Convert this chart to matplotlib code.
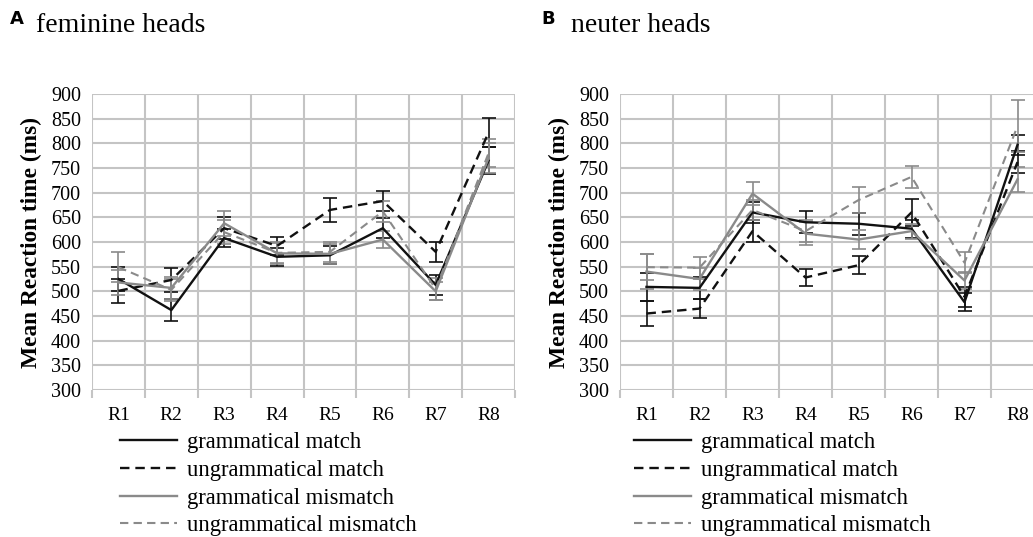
import matplotlib
matplotlib.use("Agg")
import matplotlib.pyplot as plt
from matplotlib.lines import Line2D

regions = ['R1', 'R2', 'R3', 'R4', 'R5', 'R6', 'R7', 'R8']
series_labels = ['grammatical match', 'ungrammatical match',
                 'grammatical mismatch', 'ungrammatical mismatch']
y_ticks = [300, 350, 400, 450, 500, 550, 600, 650, 700, 750, 800, 850, 900]

# Panel A: feminine heads
fem_gram_match = [525, 462, 608, 570, 573, 628, 513, 765]
fem_gram_match_err = [25, 22, 18, 18, 18, 20, 20, 28]
fem_ungram_match = [501, 523, 628, 592, 665, 683, 580, 822]
fem_ungram_match_err = [25, 25, 22, 18, 25, 20, 20, 30]
fem_gram_mismatch = [518, 507, 638, 577, 576, 605, 500, 770]
fem_gram_mismatch_err = [25, 22, 25, 22, 20, 18, 18, 30]
fem_ungram_mismatch = [549, 503, 620, 578, 580, 662, 505, 780]
fem_ungram_mismatch_err = [30, 22, 25, 20, 20, 22, 22, 28]

# Panel B: neuter heads
neu_gram_match = [509, 507, 660, 640, 637, 627, 478, 797]
neu_gram_match_err = [28, 22, 22, 22, 22, 18, 18, 20]
neu_ungram_match = [455, 465, 622, 528, 553, 660, 489, 762]
neu_ungram_match_err = [25, 20, 22, 18, 18, 28, 20, 22]
neu_gram_mismatch = [540, 525, 698, 617, 605, 622, 522, 727]
neu_gram_mismatch_err = [35, 22, 24, 23, 20, 15, 18, 25]
neu_ungram_mismatch = [549, 548, 665, 622, 685, 732, 558, 835]
neu_ungram_mismatch_err = [27, 22, 20, 22, 27, 23, 21, 52]

BLACK = '#111111'
GRAY = '#8a8a8a'
GRID = '#c4c4c4'
styles = [
    dict(color=BLACK, ls='-', lw=1.7),
    dict(color=BLACK, ls=(0, (4, 2.5)), lw=1.7),
    dict(color=GRAY, ls='-', lw=1.7),
    dict(color=GRAY, ls=(0, (4, 2.5)), lw=1.5),
]

plt.rcParams['font.family'] = ['Liberation Serif', 'DejaVu Serif']

W, H = 1033, 537
fig = plt.figure(figsize=(W / 100, H / 100), dpi=100)


def px_axes(l, t, r, b):
    return fig.add_axes([l / W, 1 - b / H, (r - l) / W, (b - t) / H])


def draw_panel(ax, data, errs):
    x = list(range(1, len(regions) + 1))
    ax.set_xlim(0.5, len(regions) + 0.5)
    ax.set_ylim(300, 900)
    ax.set_yticks(y_ticks)
    ax.set_xticks(x)
    ax.set_xticklabels(regions, fontsize=14)
    ax.tick_params(axis='y', labelsize=14.5, length=0, pad=8)
    ax.tick_params(axis='x', length=0, pad=12)
    ax.set_xticks([i + 0.5 for i in range(0, len(regions) + 1)], minor=True)
    ax.tick_params(axis='x', which='minor', length=6, color=GRID, width=1.5)
    for s in ax.spines.values():
        s.set_visible(False)
    for yv in y_ticks:
        ax.axhline(yv, color=GRID, lw=1.5, zorder=0)
    for xv in [i + 0.5 for i in range(0, len(regions) + 1)]:
        ax.axvline(xv, color=GRID, lw=1.5, zorder=0)
    for vals, err, st in zip(data, errs, styles):
        ax.errorbar(x, vals, yerr=err, color=st['color'], ls=st['ls'], lw=st['lw'],
                    elinewidth=1.2, capsize=5, capthick=1.2, zorder=3)
    ax.set_ylabel('Mean Reaction time (ms)', fontsize=16.8, fontweight='bold', labelpad=6)


axA = px_axes(92, 94, 515, 390)
draw_panel(axA,
           [fem_gram_match, fem_ungram_match, fem_gram_mismatch, fem_ungram_mismatch],
           [fem_gram_match_err, fem_ungram_match_err, fem_gram_mismatch_err, fem_ungram_mismatch_err])

axB = px_axes(620, 94, 1044, 390)
draw_panel(axB,
           [neu_gram_match, neu_ungram_match, neu_gram_mismatch, neu_ungram_mismatch],
           [neu_gram_match_err, neu_ungram_match_err, neu_gram_mismatch_err, neu_ungram_mismatch_err])

handles = [Line2D([], [], color=st['color'], ls=st['ls'], lw=st['lw']) for st in styles]
for lx in (120, 634):
    fig.legend(handles, series_labels, loc='upper left',
               bbox_to_anchor=(lx / W, 1 - 432 / H), frameon=False,
               fontsize=16.3, handlelength=2.5, handletextpad=0.45,
               labelspacing=0.3, borderpad=0, borderaxespad=0)

fig.text(10 / W, 1 - 19 / H, 'A', family='DejaVu Sans', fontweight='bold',
         fontsize=13, va='center', ha='left')
fig.text(36 / W, 1 - 25 / H, 'feminine heads', fontsize=20, va='center', ha='left')
fig.text(541 / W, 1 - 19 / H, 'B', family='DejaVu Sans', fontweight='bold',
         fontsize=13, va='center', ha='left')
fig.text(571 / W, 1 - 25 / H, 'neuter heads', fontsize=20, va='center', ha='left')

fig.savefig('out.png', dpi=100)
